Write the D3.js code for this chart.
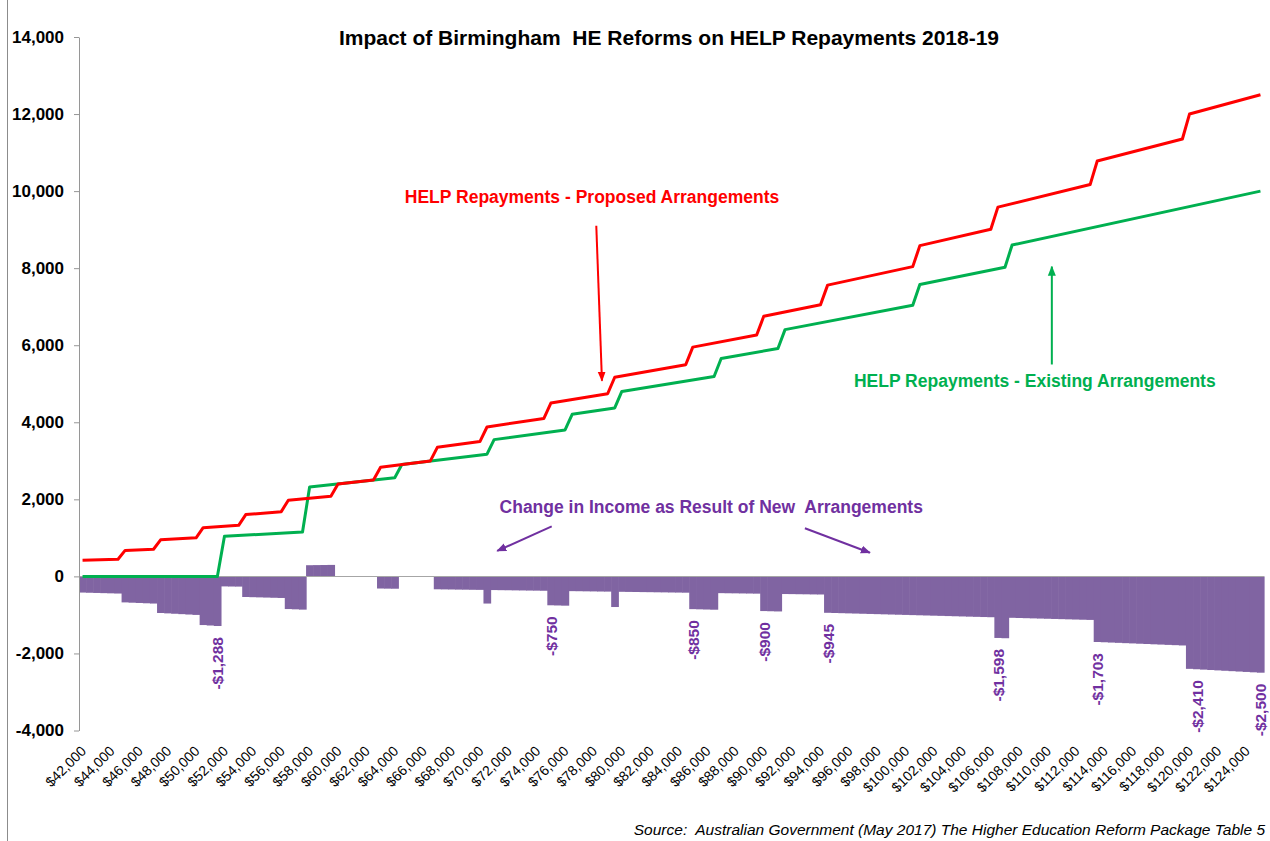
<!DOCTYPE html>
<html>
<head>
<meta charset="utf-8">
<script src="https://cdn.jsdelivr.net/npm/d3@7"></script>
<style>
  body { margin:0; background:#fff; }
  svg { font-family: Arial, "Liberation Sans", sans-serif; }
  text { white-space: pre; }
</style>
</head>
<body>
<script>
// HELP repayment lines: income where the slope changes, and repayment there
var proposedIncome = [42000,44500,45000,47000,47500,50000,50500,53000,53500,56000,
  56500,59500,60000,62500,63000,66500,67000,70000,70500,74500,
  75000,79000,79500,84500,85000,89500,90000,94000,94500,100500,
  101000,106000,106500,113000,113500,119500,120000,125000];
var proposedRepay = [420,445,675,705,950,1000,1263,1325,1605,1680,
  1978,2083,2400,2500,2835,2993,3350,3500,3878,4098,
  4500,4740,5168,5493,5950,6265,6750,7050,7560,8040,
  8585,9010,9585,10170,10783,11353,12000,12500];

var existingIncome = [42000,51500,52000,57500,58000,64000,64500,70500,71000,76000,
  76500,79500,80000,86500,87000,91000,91500,100500,101000,107000,107500,125000];
var existingRepay = [0,0,1040,1150,2320,2560,2903,3173,3550,3800,
  4208,4373,4800,5190,5655,5915,6405,7035,7575,8025,8600,10000];

// change in income, one column every $500
var barIncome = [42000,42500,43000,43500,44000,44500,45000,45500,46000,46500,
  47000,47500,48000,48500,49000,49500,50000,50500,51000,51500,
  52000,52500,53000,53500,54000,54500,55000,55500,56000,56500,
  57000,57500,58000,58500,59000,59500,60000,60500,61000,61500,
  62000,62500,63000,63500,64000,64500,65000,65500,66000,66500,
  67000,67500,68000,68500,69000,69500,70000,70500,71000,71500,
  72000,72500,73000,73500,74000,74500,75000,75500,76000,76500,
  77000,77500,78000,78500,79000,79500,80000,80500,81000,81500,
  82000,82500,83000,83500,84000,84500,85000,85500,86000,86500,
  87000,87500,88000,88500,89000,89500,90000,90500,91000,91500,
  92000,92500,93000,93500,94000,94500,95000,95500,96000,96500,
  97000,97500,98000,98500,99000,99500,100000,100500,101000,101500,
  102000,102500,103000,103500,104000,104500,105000,105500,106000,106500,
  107000,107500,108000,108500,109000,109500,110000,110500,111000,111500,
  112000,112500,113000,113500,114000,114500,115000,115500,116000,116500,
  117000,117500,118000,118500,119000,119500,120000,120500,121000,121500,
  122000,122500,123000,123500,124000,124500,125000];
var incomeChange = [-420,-425,-430,-435,-440,-445,-675,-683,-690,-698,
  -705,-950,-960,-970,-980,-990,-1000,-1263,-1275,-1288,
  -260,-263,-265,-535,-540,-545,-550,-555,-560,-848,
  -855,-863,290,293,295,298,0,0,0,0,
  0,0,-315,-318,-320,0,0,0,0,0,
  -335,-338,-340,-343,-345,-348,-350,-705,-355,-358,
  -360,-363,-365,-368,-370,-373,-750,-755,-760,-383,
  -385,-388,-390,-393,-395,-795,-400,-403,-405,-408,
  -410,-413,-415,-418,-420,-423,-850,-855,-860,-865,
  -435,-438,-440,-443,-445,-448,-900,-905,-910,-458,
  -460,-463,-465,-468,-470,-945,-950,-955,-960,-965,
  -970,-975,-980,-985,-990,-995,-1000,-1005,-1010,-1015,
  -1020,-1025,-1030,-1035,-1040,-1045,-1050,-1055,-1060,-1598,
  -1605,-1075,-1080,-1085,-1090,-1095,-1100,-1105,-1110,-1115,
  -1120,-1125,-1130,-1703,-1710,-1718,-1725,-1733,-1740,-1748,
  -1755,-1763,-1770,-1778,-1785,-1793,-2400,-2410,-2420,-2430,
  -2440,-2450,-2460,-2470,-2480,-2490,-2500];

// columns that carry a value label
var labelIncome = [51500,75000,85000,90000,94500,106500,113500,120500,125000];

var xTicks = [42000,44000,46000,48000,50000,52000,54000,56000,58000,60000,
  62000,64000,66000,68000,70000,72000,74000,76000,78000,80000,
  82000,84000,86000,88000,90000,92000,94000,96000,98000,100000,
  102000,104000,106000,108000,110000,112000,114000,116000,118000,120000,
  122000,124000];
var yTicks = [-4000,-2000,0,2000,4000,6000,8000,10000,12000,14000];

var W = 1270, H = 841;
var svg = d3.select("body").append("svg").attr("width", W).attr("height", H);

var x = d3.scaleLinear().domain([41750, 125250]).range([79, 1264]);
var y = d3.scaleLinear().domain([-4000, 14000]).range([730.5, 37]);
var colW = x(42500) - x(42000);
var fmt = d3.format(",");

// chart border (only the left edge shows)
svg.append("line").attr("x1", 7.5).attr("x2", 7.5).attr("y1", 0).attr("y2", H)
  .attr("stroke", "#8c8c8c");

// bars
svg.append("g").selectAll("rect").data(barIncome).enter().append("rect")
  .attr("x", function(d) { return x(d) - colW / 2; })
  .attr("width", colW + 0.6)
  .attr("y", function(d, i) { return y(Math.max(0, incomeChange[i])); })
  .attr("height", function(d, i) { return Math.abs(y(incomeChange[i]) - y(0)); })
  .attr("fill", "#8064a2");

// zero line
svg.append("line").attr("x1", 79).attr("x2", 1264)
  .attr("y1", Math.round(y(0)) + 0.5).attr("y2", Math.round(y(0)) + 0.5)
  .attr("stroke", "#a6a6a6");

// y axis
var gy = svg.append("g").attr("transform", "translate(79,0)")
  .call(d3.axisLeft(y).tickValues(yTicks).tickSize(5).tickSizeOuter(0)
    .tickFormat(function(d) { return fmt(d).replace("\u2212", "-"); }));
gy.select(".domain").attr("stroke", "#969696");
gy.selectAll(".tick line").attr("stroke", "#969696");
gy.selectAll(".tick text").attr("x", -15).attr("font-size", 17)
  .attr("font-weight", "bold").attr("fill", "#000").attr("font-family", "Arial, 'Liberation Sans', sans-serif");

// x axis labels
var gx = svg.append("g").attr("transform", "translate(0,752)")
  .call(d3.axisBottom(x).tickValues(xTicks).tickSize(0)
    .tickFormat(function(d) { return "$" + fmt(d); }));
gx.select(".domain").remove();
gx.selectAll(".tick text").attr("x", 0).attr("y", 0).attr("dy", 0)
  .attr("text-anchor", "end").attr("transform", "translate(4,0) rotate(-45)")
  .attr("font-size", 14).attr("fill", "#000").attr("font-family", "Arial, 'Liberation Sans', sans-serif");

// lines
var line = d3.line().x(function(d) { return x(d[0]); }).y(function(d) { return y(d[1]); });
svg.append("path").datum(d3.zip(existingIncome, existingRepay)).attr("d", line)
  .attr("fill", "none").attr("stroke", "#00b050").attr("stroke-width", 3).attr("stroke-linejoin", "round");
svg.append("path").datum(d3.zip(proposedIncome, proposedRepay)).attr("d", line)
  .attr("fill", "none").attr("stroke", "#ff0000").attr("stroke-width", 3).attr("stroke-linejoin", "round");

// bar value labels
svg.append("g").selectAll("text").data(labelIncome).enter().append("text")
  .attr("transform", function(d) {
    var v = incomeChange[barIncome.indexOf(d)];
    return "translate(" + (x(d) + 6) + "," + (y(v) + 11) + ") rotate(-90)";
  })
  .attr("text-anchor", "end").attr("font-size", 15.5).attr("font-weight", "bold")
  .attr("fill", "#7030a0")
  .text(function(d) { return "-$" + fmt(Math.abs(incomeChange[barIncome.indexOf(d)])); });

// annotations
var notes = [
  {text: "HELP Repayments - Proposed Arrangements", at: [77900, 9700], color: "#ff0000"},
  {text: "HELP Repayments - Existing Arrangements", at: [109100, 4910], color: "#00b050"},
  {text: "Change in Income as Result of New  Arrangements", at: [86300, 1640], color: "#7030a0"}
];
var arrows = [
  {from: [78200, 9100], to: [78600, 5080], color: "#ff0000"},
  {from: [110300, 5500], to: [110300, 8040], color: "#00b050"},
  {from: [75060, 1300], to: [71220, 660], color: "#7030a0"},
  {from: [92900, 1250], to: [97480, 615], color: "#7030a0"}
];

var defs = svg.append("defs");
["#ff0000", "#00b050", "#7030a0"].forEach(function(c) {
  defs.append("marker").attr("id", "head" + c.slice(1))
    .attr("viewBox", "0 0 10 10").attr("refX", 9).attr("refY", 5)
    .attr("markerWidth", 10).attr("markerHeight", 10)
    .attr("markerUnits", "userSpaceOnUse").attr("orient", "auto")
    .append("path").attr("d", "M0,1L10,5L0,9Z").attr("fill", c);
});

svg.append("g").selectAll("line").data(arrows).enter().append("line")
  .attr("x1", function(d) { return x(d.from[0]); }).attr("y1", function(d) { return y(d.from[1]); })
  .attr("x2", function(d) { return x(d.to[0]); }).attr("y2", function(d) { return y(d.to[1]); })
  .attr("stroke", function(d) { return d.color; }).attr("stroke-width", 2)
  .attr("marker-end", function(d) { return "url(#head" + d.color.slice(1) + ")"; });

svg.append("g").selectAll("text").data(notes).enter().append("text")
  .attr("x", function(d) { return x(d.at[0]); }).attr("y", function(d) { return y(d.at[1]); })
  .attr("text-anchor", "middle").attr("font-size", 17.5).attr("font-weight", "bold")
  .attr("fill", function(d) { return d.color; })
  .text(function(d) { return d.text; });

// title and source
svg.append("text").attr("x", 669).attr("y", 45).attr("text-anchor", "middle")
  .attr("font-size", 21).attr("font-weight", "bold").attr("fill", "#000")
  .text("Impact of Birmingham  HE Reforms on HELP Repayments 2018-19");

svg.append("text").attr("x", 1265).attr("y", 835).attr("text-anchor", "end")
  .attr("font-size", 15.5).attr("font-style", "italic").attr("fill", "#000")
  .text("Source:  Australian Government (May 2017) The Higher Education Reform Package Table 5");
</script>
</body>
</html>
